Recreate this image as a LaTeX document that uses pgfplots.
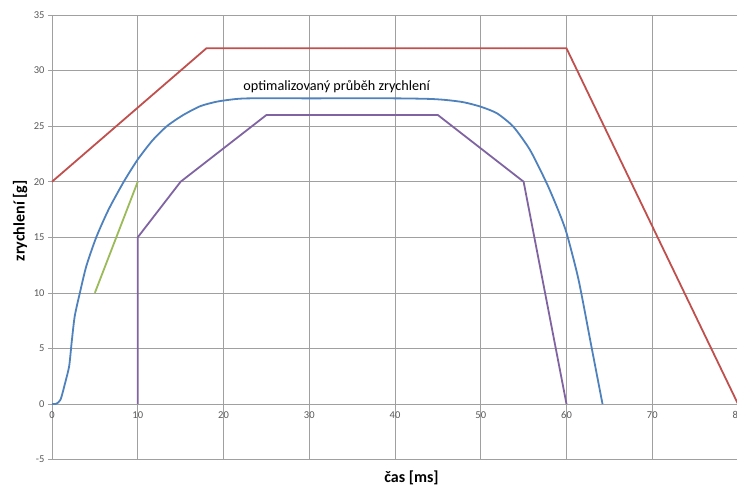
\documentclass[border=0pt]{standalone}
\usepackage{pgfplots}
\pgfplotsset{compat=1.18}
\usepackage{fontspec}
\setmainfont{Carlito}
\definecolor{exred}{HTML}{C0504D}
\definecolor{exblue}{HTML}{4F81BD}
\definecolor{exgreen}{HTML}{9BBB59}
\definecolor{expurple}{HTML}{8064A2}
\definecolor{gridgray}{HTML}{A0A0A0}
\definecolor{ticktext}{HTML}{595959}
\begin{document}
\begin{tikzpicture}
\begin{axis}[
  scale only axis, width=686pt, height=444.6pt,
  xmin=0, xmax=80, ymin=-5, ymax=35,
  xtick={0,10,...,80}, ytick={-5,0,...,35},
  grid=major, grid style={color=gridgray, line width=0.7pt},
  axis line style={color=gridgray, line width=0.7pt},
  xtick style={draw=none},
  ytick style={color=gridgray, line width=0.7pt},
  ytick pos=left, tick align=outside, major tick length=4pt,
  xticklabel style={yshift=55.575pt, font=\fontsize{10.5}{12}\selectfont, text=ticktext},
  yticklabel style={font=\fontsize{10.5}{12}\selectfont, text=ticktext},
  /pgf/number format/assume math mode=true,
  xlabel={čas [ms]}, ylabel={zrychlení [g]},
  xlabel style={at={(axis description cs:0.524,-0.042)}, anchor=center, font=\fontsize{16}{18}\selectfont\bfseries},
  ylabel style={at={(axis description cs:-0.0466,0.537)}, anchor=center, rotate=0, font=\fontsize{16}{18}\selectfont\bfseries},
  clip=false,
]
\addplot[exred, line width=1.8pt] coordinates {(0,20) (18,32) (60,32) (80,0)};
\addplot[exgreen, line width=1.8pt] coordinates {(5,10) (10,20)};
\addplot[expurple, line width=1.8pt] coordinates {(10,0) (10,15) (15,20) (25,26) (45,26) (55,20) (60,0)};
\addplot[exblue, line width=1.8pt, smooth, tension=0.4] coordinates {
(0,0) (0.5,0.02) (1,0.4) (1.5,1.8) (2,3.4) (2.3,5.6) (2.65,7.9) (3.25,10) (4,12.4) (5.16,15)
(6.6,17.5) (8.37,20) (10,22) (11.7,23.7) (13.4,25) (15.3,26) (17.3,26.8) (19.2,27.2) (21.2,27.42) (23,27.5)
(30,27.5) (40,27.5) (44,27.45) (46,27.35) (48,27.15) (50,26.75) (51.9,26.15) (53.8,24.95) (55.75,22.85)
(57.7,19.85) (59,17.5) (60,15.4) (61.4,11.2) (62.9,5.2) (64.2,0)};
\node[font=\fontsize{14.2}{16}\selectfont] at (axis cs:33.2,28.6) {optimalizovaný průběh zrychlení};
\end{axis}
\pgfresetboundingbox
\path[use as bounding box] (-52pt,-26.4pt) rectangle (685pt,459.6pt);
\end{tikzpicture}
\end{document}
